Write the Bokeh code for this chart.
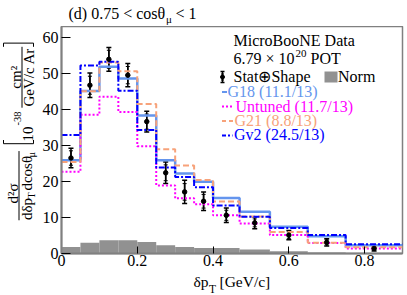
import math
from bokeh.plotting import figure
from bokeh.layouts import column, row
from bokeh.models import (ColumnDataSource, Whisker, TeeHead, Label, Arrow,
                          FixedTicker, Range1d, BoxAnnotation)
from bokeh.embed import file_html
from bokeh.resources import INLINE

# ---------------- data ----------------
bin_edges = [0.0, 0.05, 0.10, 0.15, 0.20, 0.25, 0.30, 0.35, 0.40, 0.47, 0.55, 0.65, 0.75, 0.90]
data_xsec = [26.5, 46.7, 53.9, 49.5, 36.6, 22.4, 17.1, 14.5, 10.6, 8.5, 5.1, 3.1, 1.4]
data_err_total = [2.7, 3.4, 3.3, 3.2, 2.9, 3.0, 3.2, 2.6, 2.0, 1.6, 1.3, 1.0, 0.7]
data_err_stat = [2.0, 2.5, 2.5, 2.4, 2.1, 2.2, 2.3, 1.9, 1.4, 1.1, 0.9, 0.7, 0.5]
g18 = [25.9, 45.1, 51.8, 48.6, 38.3, 25.9, 22.2, 19.9, 15.4, 11.6, 7.4, 4.8, 2.3]
untuned = [22.7, 38.5, 43.5, 39.3, 29.8, 18.9, 15.3, 13.7, 10.6, 8.3, 5.1, 2.9, 1.4]
g21 = [25.4, 45.0, 53.0, 50.6, 41.5, 28.9, 24.4, 20.4, 14.4, 10.3, 6.0, 3.0, 1.7]
gv2 = [32.9, 52.2, 53.2, 45.2, 34.3, 23.9, 21.2, 18.4, 13.3, 10.2, 7.1, 5.1, 2.6]
norm_unc = [1.8, 3.0, 3.7, 3.7, 3.2, 2.3, 1.8, 1.5, 1.5, 1.1, 0.6, 0.3, 0.15]

x_ticks = [0, 0.2, 0.4, 0.6, 0.8]
x_tick_labels = ["0", "0.2", "0.4", "0.6", "0.8"]
y_ticks = [0, 10, 20, 30, 40, 50, 60]

model_names = ["G18", "Untuned", "G21", "Gv2"]
model_chi2 = ["(11.1/13)", "(11.7/13)", "(8.8/13)", "(24.5/13)"]

# ---------------- styles / layout (page pixel geometry) ----------------
C_G18, C_UNT, C_G21, C_GV2 = "#6495ED", "#FF00FF", "#F7A27A", "#0000FF"
C_NORM = "#919191"
FONT = "Liberation Serif"

PW, PH = 407, 295
FL, FR, FT, FB = 61, 402, 26, 253      # frame edges in page px
YL_W = 38                              # width of y-title strip
XL_TOP = 272                           # top of x-title strip
XMIN, XMAX, YMIN, YMAX = 0.0, 0.9, 0.0, 63.0


def X(px):   # page px -> data x (main plot)
    return XMIN + (px - FL) / (FR - FL) * (XMAX - XMIN)


def Y(py):   # page px -> data y (main plot)
    return YMIN + (FB - py) / (FB - FT) * (YMAX - YMIN)


def strip(w, h, x0, x1, ytop, ybot):
    # strip figure whose coordinates are page px (y stored negated)
    f = figure(width=w, height=h, x_range=Range1d(x0, x1), y_range=Range1d(-ybot, -ytop),
               x_axis_type=None, y_axis_type=None, toolbar_location=None,
               output_backend="svg", min_border=0, title=None)
    f.outline_line_color = None
    f.xgrid.grid_line_color = None
    f.ygrid.grid_line_color = None
    f.background_fill_color = "white"
    f.border_fill_color = "white"
    return f


def txt(f, text, x, y, size=16, color="black", angle=0.0, align="left"):
    # y is the vertical centre of the text line
    f.add_layout(Label(x=x, y=y, text=text, text_font=FONT,
                       text_font_size=f"{size}px", text_color=color, angle=angle,
                       text_align=align, text_baseline="middle"))


def seg(f, x0, y0, x1, y1, color="black", width=1.0, dash="solid"):
    f.add_layout(Arrow(end=None, x_start=x0, y_start=y0, x_end=x1, y_end=y1,
                       line_color=color, line_width=width, line_dash=dash))


def stxt(f, text, px, py, **kw):
    txt(f, text, px, -py, **kw)


def sseg(f, x0, y0, x1, y1, **kw):
    seg(f, x0, -y0, x1, -y1, **kw)


# ---------------- main plot ----------------
MAIN_W = PW - YL_W
MAIN_H = XL_TOP - FT
p = figure(width=MAIN_W, height=MAIN_H, x_range=Range1d(XMIN, XMAX), y_range=Range1d(YMIN, YMAX),
           output_backend="svg", toolbar_location=None, title=None,
           min_border_left=FL - YL_W, min_border_right=PW - FR,
           min_border_top=0, min_border_bottom=XL_TOP - FB)
p.background_fill_color = "white"
p.border_fill_color = "white"
p.outline_line_color = "#808080"
p.outline_line_width = 1.5
p.xgrid.grid_line_color = None
p.ygrid.grid_line_color = None

p.xaxis.ticker = FixedTicker(ticks=x_ticks)
p.xaxis.major_label_overrides = dict(zip(x_ticks, x_tick_labels))
p.yaxis.ticker = FixedTicker(ticks=y_ticks)
for ax in (p.xaxis[0], p.yaxis[0]):
    ax.axis_line_color = "#808080"
    ax.axis_line_width = 2
    ax.major_tick_line_color = "black"
    ax.major_tick_line_width = 1
    ax.major_tick_out = 0
    ax.minor_tick_line_color = None
    ax.major_label_text_font = FONT
    ax.major_label_text_font_size = "16px"
    ax.major_label_text_color = "black"
p.xaxis.major_tick_in = 7
p.yaxis.major_tick_in = 9
p.xaxis.major_label_standoff = 1
p.yaxis.major_label_standoff = 3

p.quad(left=bin_edges[:-1], right=bin_edges[1:], bottom=0, top=norm_unc,
       fill_color=C_NORM, line_color=None)


def stepline(vals, color, width, dash):
    p.step(x=bin_edges, y=vals + [vals[-1]], mode="after", line_color=color,
           line_width=width, line_dash=dash)


stepline(g18, C_G18, 2.5, "solid")
stepline(untuned, C_UNT, 2, "2 2")
stepline(g21, C_G21, 2, "6 3")
stepline(gv2, C_GV2, 2, "6 2 2 2")

centers = [(a + b) / 2 for a, b in zip(bin_edges[:-1], bin_edges[1:])]
src = ColumnDataSource(dict(
    x=centers, y=data_xsec,
    up=[v + e for v, e in zip(data_xsec, data_err_total)],
    lo=[v - e for v, e in zip(data_xsec, data_err_total)],
    up_s=[v + e for v, e in zip(data_xsec, data_err_stat)],
    lo_s=[v - e for v, e in zip(data_xsec, data_err_stat)],
))
p.add_layout(Whisker(base="x", upper="up", lower="lo", source=src,
                     line_color="black", line_width=1.5,
                     upper_head=TeeHead(size=5, line_color="black", line_width=1.5),
                     lower_head=TeeHead(size=5, line_color="black", line_width=1.5)))
p.add_layout(Whisker(base="x", upper="up_s", lower="lo_s", source=src,
                     line_color="black", line_width=1.5,
                     upper_head=TeeHead(size=4, line_color="black", line_width=1),
                     lower_head=TeeHead(size=4, line_color="black", line_width=1)))
p.scatter(x="x", y="y", source=src, size=4.5, color="black")

# legend (inside frame, page-pixel placement, y = text centre)
txt(p, "MicroBooNE Data", X(233), Y(40))
txt(p, "6.79 × 10", X(233), Y(57.5))
txt(p, "20", X(295), Y(53), size=11)
txt(p, "POT", X(310), Y(57.5))

seg(p, X(222), Y(71), X(222), Y(82), width=1.5)
seg(p, X(220), Y(71), X(224), Y(71), width=1.5)
seg(p, X(220), Y(82), X(224), Y(82), width=1.5)
seg(p, X(220.5), Y(73.5), X(223.5), Y(73.5))
seg(p, X(220.5), Y(79.5), X(223.5), Y(79.5))
p.scatter(x=[X(222)], y=[Y(76.5)], size=4, color="black")
txt(p, "Stat⊕Shape", X(233), Y(76))
p.add_layout(BoxAnnotation(left=X(324), right=X(337), top=Y(71), bottom=Y(82),
                           fill_color=C_NORM, fill_alpha=1.0, line_color=None))
txt(p, "Norm", X(337.5), Y(76))

seg(p, X(221.5), Y(91.5), X(226.5), Y(91.5), color=C_G18, width=2)
txt(p, f"{model_names[0]} {model_chi2[0]}", X(227), Y(91.2), color=C_G18)
seg(p, X(221.5), Y(106), X(233), Y(106), color=C_UNT, width=2, dash="2 2")
txt(p, f"{model_names[1]} {model_chi2[1]}", X(235), Y(105.5), color=C_UNT)
seg(p, X(221.5), Y(120.5), X(233), Y(120.5), color=C_G21, width=2, dash="4 3")
txt(p, f"{model_names[2]} {model_chi2[2]}", X(234), Y(119.8), color=C_G21)
seg(p, X(221.5), Y(135), X(232), Y(135), color=C_GV2, width=2, dash="4 2 2 2")
txt(p, f"{model_names[3]} {model_chi2[3]}", X(233.5), Y(134.2), color=C_GV2)

# ---------------- title strip (page coords) ----------------
t = strip(PW, FT, 0, PW, 0, FT)
stxt(t, "(d) 0.75 < cosθ", 68, 13)
stxt(t, "μ", 165.5, 18.5, size=11)
stxt(t, "< 1", 175, 13)

# ---------------- y-title strip (page coords, rotated text, centred) ----------------
yl = strip(YL_W, MAIN_H, 0, YL_W, FT, XL_TOP)
R = math.pi / 2
stxt(yl, "d²σ", 12, 207, size=15, angle=R, align="center")
sseg(yl, 18.5, 161, 18.5, 236)
stxt(yl, "dδp", 26.5, 223.8, size=15, angle=R, align="center")
stxt(yl, "T", 31, 209.3, size=10.5, angle=R, align="center")
stxt(yl, "dcosθ", 26.5, 185, size=15, angle=R, align="center")
stxt(yl, "μ", 31, 164.8, size=10.5, angle=R, align="center")
sseg(yl, 3, 153, 33, 153)
sseg(yl, 3, 153, 3, 149)
sseg(yl, 33, 153, 33, 149)
stxt(yl, "10", 27, 142.5, size=15, angle=R, align="center")
stxt(yl, "-38", 16.5, 125.8, size=10.5, angle=R, align="center")
stxt(yl, "cm²", 15, 81, size=15, angle=R, align="center")
sseg(yl, 21.5, 48, 21.5, 114)
stxt(yl, "GeV/c Ar", 28.5, 81, size=15, angle=R, align="center")
sseg(yl, 3, 44, 33, 44)
sseg(yl, 3, 44, 3, 48)
sseg(yl, 33, 44, 33, 48)

# ---------------- x-title strip (page coords) ----------------
xl = strip(PW, PH - XL_TOP, 0, PW, XL_TOP, PH)
stxt(xl, "δp", 193, 281, size=15.5)
stxt(xl, "T", 208.5, 288, size=11.5)
stxt(xl, "[GeV/c]", 219, 281, size=15.5)

layout = column(t, row(yl, p), xl)
open("out.html", "w").write(file_html(layout, INLINE))
